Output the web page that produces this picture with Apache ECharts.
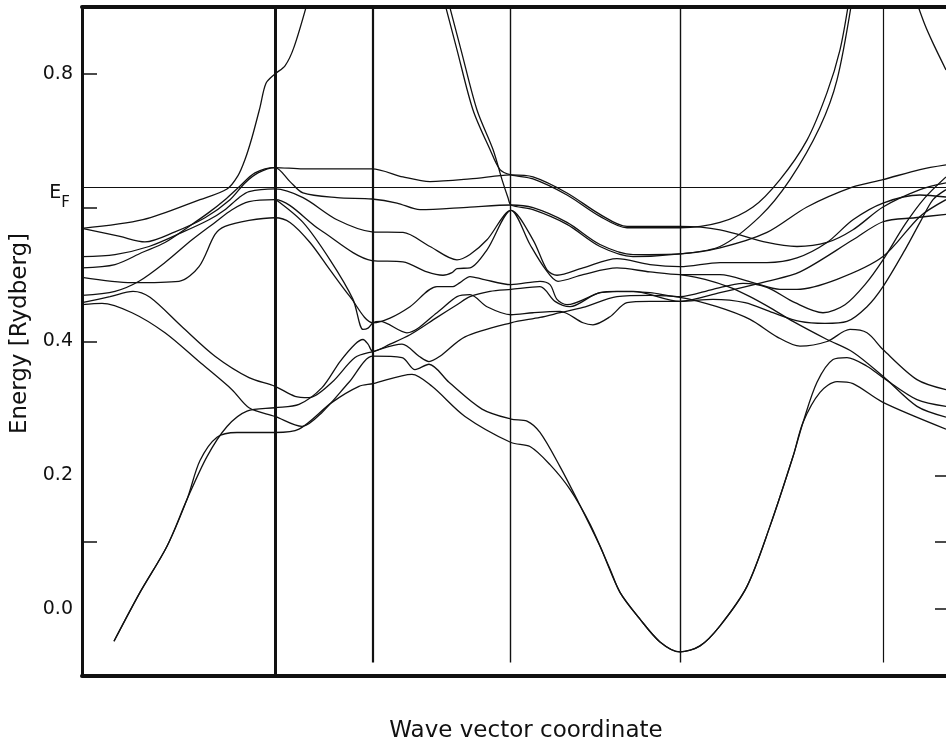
<!DOCTYPE html>
<html>
<head>
    <meta charset="utf-8">
    <title>Band structure</title>
    <script src="https://cdn.jsdelivr.net/npm/echarts@6.0.0/dist/echarts.min.js"></script>
    <style>
        html, body { margin: 0; padding: 0; background: #fff; }
    </style>
</head>
<body>
    <div id="chart" style="width:946px;height:742px;"></div>
    <script type="text/javascript">
        // path coordinate of the symmetry points (vertical lines)
        var symPoints = [193, 291, 428, 598, 801];
        var fermiLevel = 0.631;
        var yLabelValues = [0, 0.2, 0.4, 0.631, 0.8];
        var leftTickValues = [0.1, 0.4, 0.6, 0.8];
        var rightTickValues = [0, 0.1, 0.2];

        // bands: [wave vector coordinate, energy (Ry)]
        var band1 = [[0,0.569],[61,0.582],[118,0.612],[145,0.628],[156,0.648],[163,0.672],[170,0.705],[178,0.750],[184,0.786],[193,0.800],[203,0.812],[212,0.840],[226,0.910]];
        var band2 = [[0,0.569],[38,0.557],[63,0.549],[93,0.564],[123,0.585],[148,0.612],[163,0.637],[176,0.652],[193,0.660],[208,0.639],[221,0.622],[255,0.615],[290,0.613],[315,0.607],[338,0.597],[388,0.601],[429,0.604],[451,0.600],[485,0.578],[518,0.545],[551,0.530],[598,0.531],[638,0.540],[685,0.563],[725,0.601],[771,0.631],[801,0.642],[838,0.657],[864,0.664]];
        var band3 = [[0,0.510],[33,0.515],[60,0.533],[83,0.548],[107,0.572],[127,0.593],[143,0.612],[157,0.631],[173,0.652],[193,0.660],[221,0.658],[255,0.658],[290,0.658],[321,0.646],[348,0.639],[388,0.643],[418,0.648],[429,0.649],[451,0.646],[485,0.622],[518,0.590],[545,0.572],[598,0.572],[638,0.567],[685,0.548],[715,0.542],[745,0.548],[771,0.567],[801,0.601],[838,0.627],[864,0.637]];
        var band4 = [[362,0.910],[375,0.836],[391,0.746],[408,0.687],[418,0.657],[429,0.649],[451,0.643],[485,0.619],[518,0.587],[545,0.570],[598,0.570],[638,0.578],[671,0.601],[698,0.642],[725,0.701],[745,0.772],[758,0.836],[767,0.910]];
        var band5 = [[366,0.910],[379,0.836],[395,0.746],[411,0.687],[420,0.642],[426,0.615],[429,0.604],[451,0.597],[485,0.575],[518,0.542],[551,0.527],[598,0.531],[638,0.542],[678,0.587],[708,0.642],[738,0.721],[755,0.791],[770,0.910]];
        var band6 = [[0,0.527],[33,0.530],[67,0.542],[100,0.563],[127,0.582],[143,0.597],[157,0.615],[167,0.624],[193,0.628],[221,0.615],[255,0.582],[290,0.564],[321,0.563],[348,0.542],[375,0.522],[388,0.530],[405,0.552],[429,0.596],[451,0.552],[465,0.507],[475,0.499],[501,0.510],[535,0.524],[568,0.515],[598,0.512],[638,0.518],[685,0.518],[715,0.525],[745,0.548],[771,0.582],[801,0.607],[838,0.619],[864,0.616]];
        var band7 = [[0,0.469],[33,0.475],[57,0.490],[83,0.518],[110,0.552],[133,0.578],[150,0.597],[167,0.609],[193,0.612],[238,0.567],[290,0.521],[321,0.519],[345,0.504],[361,0.499],[370,0.503],[375,0.509],[388,0.510],[405,0.537],[429,0.596],[448,0.545],[463,0.509],[476,0.490],[501,0.500],[535,0.510],[568,0.504],[598,0.500],[638,0.500],[671,0.488],[698,0.478],[715,0.478],[755,0.493],[801,0.527],[838,0.587],[864,0.612]];
        var band8 = [[0,0.496],[50,0.488],[97,0.490],[117,0.512],[133,0.560],[143,0.572],[167,0.581],[193,0.585],[208,0.578],[228,0.548],[248,0.507],[268,0.467],[291,0.428],[308,0.435],[328,0.452],[355,0.482],[371,0.482],[378,0.488],[388,0.497],[401,0.493],[429,0.485],[458,0.490],[468,0.485],[475,0.463],[485,0.455],[518,0.473],[535,0.475],[568,0.473],[598,0.467],[631,0.478],[661,0.487],[685,0.481],[713,0.458],[741,0.443],[763,0.455],[783,0.485],[801,0.522],[823,0.575],[843,0.615],[864,0.646]];
        var band9 = [[193,0.613],[221,0.578],[248,0.522],[271,0.463],[281,0.418],[286,0.420],[291,0.428],[298,0.430],[325,0.413],[355,0.443],[375,0.467],[388,0.470],[405,0.452],[429,0.440],[451,0.443],[478,0.445],[501,0.428],[511,0.425],[528,0.437],[545,0.458],[568,0.460],[598,0.460],[638,0.473],[685,0.490],[718,0.504],[771,0.552],[801,0.579],[833,0.585],[864,0.590]];
        var band10 = [[0,0.455],[20,0.457],[50,0.443],[83,0.413],[117,0.370],[150,0.328],[167,0.301],[193,0.288],[220,0.273],[240,0.294],[267,0.339],[291,0.378],[320,0.376],[333,0.358],[347,0.366],[367,0.339],[400,0.299],[429,0.284],[445,0.281],[458,0.264],[478,0.213],[495,0.164],[518,0.094],[538,0.025],[558,-0.015],[578,-0.049],[598,-0.064],[618,-0.055],[638,-0.025],[665,0.034],[688,0.124],[711,0.228],[721,0.279],[735,0.339],[751,0.373],[765,0.376],[785,0.363],[801,0.346],[835,0.313],[864,0.303]];
        var band11 = [[0,0.458],[28,0.467],[51,0.475],[68,0.466],[100,0.422],[133,0.378],[167,0.346],[193,0.333],[213,0.318],[227,0.316],[250,0.339],[273,0.376],[291,0.385],[320,0.396],[337,0.378],[347,0.370],[358,0.378],[383,0.407],[429,0.428],[458,0.436],[478,0.443],[501,0.451],[535,0.467],[568,0.469],[598,0.466],[635,0.452],[668,0.433],[695,0.407],[718,0.393],[745,0.400],[768,0.418],[785,0.413],[801,0.388],[835,0.343],[864,0.328]];
        var band12 = [[32,-0.048],[58,0.025],[85,0.094],[105,0.164],[125,0.228],[145,0.273],[165,0.296],[193,0.301],[217,0.306],[240,0.331],[258,0.370],[273,0.396],[281,0.403],[286,0.396],[291,0.385],[308,0.396],[328,0.410],[355,0.436],[375,0.455],[388,0.467],[408,0.475],[429,0.478],[458,0.482],[473,0.460],[488,0.452],[518,0.473],[551,0.475],[598,0.460],[631,0.463],[663,0.458],[691,0.443],[718,0.430],[743,0.427],[765,0.430],[785,0.452],[801,0.482],[823,0.537],[838,0.578],[851,0.612],[864,0.627]];
        var band13 = [[32,-0.048],[58,0.025],[85,0.094],[105,0.164],[118,0.222],[135,0.257],[155,0.264],[193,0.264],[217,0.269],[250,0.309],[277,0.333],[291,0.337],[330,0.351],[350,0.333],[383,0.288],[429,0.249],[448,0.243],[468,0.216],[488,0.179],[508,0.127],[528,0.060],[538,0.025],[558,-0.015],[578,-0.049],[598,-0.064],[618,-0.055],[638,-0.025],[665,0.034],[688,0.124],[711,0.228],[721,0.279],[738,0.324],[755,0.340],[771,0.337],[801,0.309],[864,0.269]];
        var band14 = [[598,0.500],[623,0.493],[648,0.481],[668,0.467],[691,0.448],[711,0.430],[745,0.403],[771,0.384],[801,0.348],[835,0.303],[864,0.287]];
        var band15 = [[834,0.910],[843,0.873],[851,0.846],[864,0.806]];

        var bands = [band1, band2, band3, band4, band5, band6, band7, band8, band9, band10, band11, band12, band13, band14, band15];

        var FONT = 'DejaVu Sans';
        var INK = '#111';

        window.onload = function () {
            var chart = echarts.init(document.getElementById('chart'));

            var vWidths = [3, 2.2, 1.4, 1.4, 1.2];
            var vLines = symPoints.map(function (k, i) {
                var bottom = i === 0 ? -0.1 : -0.08;
                return [{ coord: [k, bottom], lineStyle: { width: vWidths[i] } }, { coord: [k, 0.9] }];
            });
            vLines.push({ yAxis: fermiLevel, lineStyle: { width: 1.1 } });

            var series = bands.map(function (b, i) {
                var s = {
                    type: 'line',
                    data: b,
                    showSymbol: false,
                    smooth: 0.3,
                    silent: true,
                    clip: true,
                    lineStyle: { color: INK, width: 1.3 }
                };
                if (i === 0) {
                    s.markLine = {
                        silent: true,
                        symbol: ['none', 'none'],
                        label: { show: false },
                        lineStyle: { color: INK, type: 'solid' },
                        data: vLines
                    };
                }
                return s;
            });

            var option = {
                animation: false,
                backgroundColor: '#fff',
                grid: { left: 82, right: 0, top: 7, bottom: 66, outerBoundsMode: 'none' },
                xAxis: [{
                    type: 'value',
                    min: 0,
                    max: 864,
                    position: 'bottom',
                    name: 'Wave vector coordinate',
                    nameLocation: 'middle',
                    nameGap: 44,
                    nameTextStyle: { fontFamily: FONT, fontSize: 23, color: INK, padding: [0, 0, 0, 24] },
                    axisLine: { show: true, onZero: false, lineStyle: { color: INK, width: 4 } },
                    axisTick: { show: false },
                    axisLabel: { show: false },
                    splitLine: { show: false }
                }, {
                    type: 'value',
                    min: 0,
                    max: 864,
                    position: 'top',
                    axisLine: { show: true, onZero: false, lineStyle: { color: INK, width: 4 } },
                    axisTick: { show: false },
                    axisLabel: { show: false },
                    splitLine: { show: false }
                }],
                yAxis: [{
                    type: 'value',
                    min: -0.1,
                    max: 0.9,
                    position: 'left',
                    name: 'Energy [Rydberg]',
                    nameLocation: 'middle',
                    nameGap: 50,
                    nameTextStyle: { fontFamily: FONT, fontSize: 23, color: INK, padding: [0, 0, 0, 16] },
                    axisLine: { show: true, onZero: false, lineStyle: { color: INK, width: 3 } },
                    axisTick: { show: true, inside: true, length: 15, customValues: leftTickValues, lineStyle: { color: INK, width: 1.5 } },
                    axisLabel: {
                        show: true,
                        customValues: yLabelValues,
                        margin: 9,
                        fontFamily: FONT,
                        fontSize: 19,
                        color: INK,
                        formatter: function (v) {
                            if (Math.abs(v - fermiLevel) < 0.001) {
                                return '{e|E}{f|F}';
                            }
                            return v.toFixed(1);
                        },
                        rich: {
                            e: { fontFamily: FONT, fontSize: 19, color: INK, padding: [12, 0, 0, 0] },
                            f: { fontFamily: FONT, fontSize: 15, color: INK, padding: [32, 3, 0, 0] }
                        }
                    },
                    splitLine: { show: false }
                }, {
                    type: 'value',
                    min: -0.1,
                    max: 0.9,
                    position: 'right',
                    axisLine: { show: false, onZero: false },
                    axisTick: { show: true, inside: true, length: 11, customValues: rightTickValues, lineStyle: { color: INK, width: 1.5 } },
                    axisLabel: { show: false },
                    splitLine: { show: false }
                }],
                series: series
            };
            chart.setOption(option);
        };
    </script>
</body>
</html>
